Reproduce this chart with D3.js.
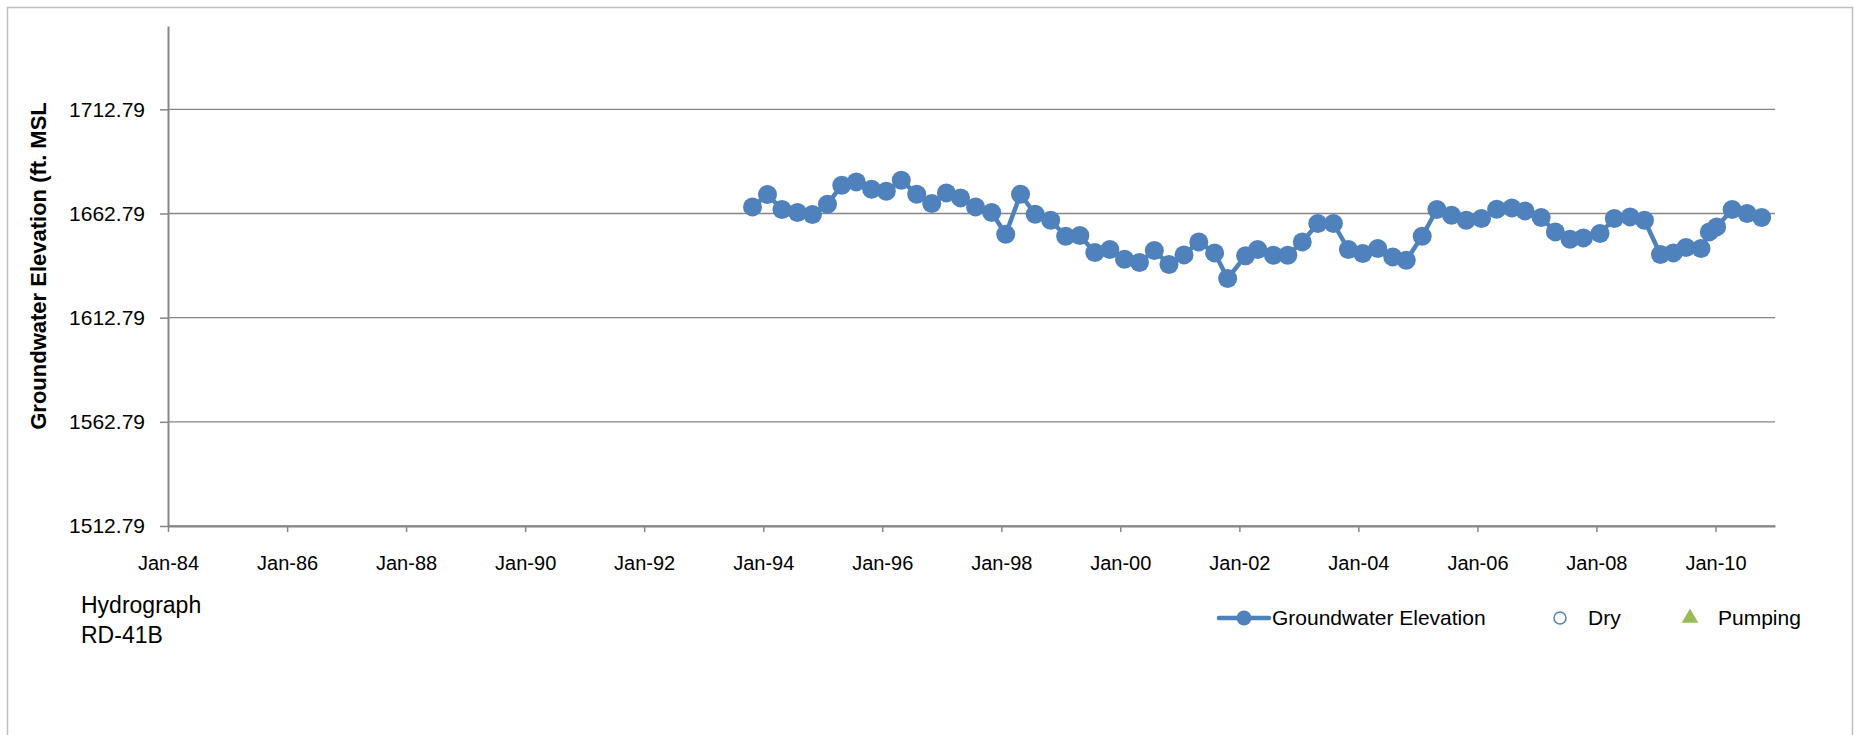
<!DOCTYPE html>
<html>
<head>
<meta charset="utf-8">
<script src="https://cdn.jsdelivr.net/npm/d3@7"></script>
<style>
  body { margin: 0; background: #fff; }
  text { font-family: "Liberation Sans", Arial, sans-serif; fill: #000; }
</style>
</head>
<body>
<div id="viz-container"></div>
<script>
let sampleDates = [
  "1993-10-27","1994-01-27","1994-04-26","1994-07-30","1994-10-30",
  "1995-01-30","1995-04-28","1995-07-26","1995-10-28","1996-01-26",
  "1996-04-27","1996-07-31","1996-10-31","1997-01-29","1997-04-26",
  "1997-07-27","1997-11-03","1998-01-28","1998-04-29","1998-07-28",
  "1998-10-31","1999-01-31","1999-04-28","1999-07-29","1999-10-29",
  "2000-01-27","2000-04-28","2000-07-28","2000-10-26","2001-01-26",
  "2001-04-27","2001-08-02","2001-10-21","2002-02-08","2002-04-23",
  "2002-07-29","2002-10-25","2003-01-22","2003-04-27","2003-08-01",
  "2003-11-01","2004-01-28","2004-04-29","2004-07-30","2004-10-21",
  "2005-01-27","2005-04-27","2005-07-26","2005-10-24","2006-01-26",
  "2006-04-29","2006-07-31","2006-10-20","2007-01-27","2007-04-24",
  "2007-07-23","2007-10-13","2008-01-23","2008-04-20","2008-07-26",
  "2008-10-22","2009-01-28","2009-04-17","2009-07-04","2009-10-04",
  "2009-11-24","2010-01-08","2010-04-13","2010-07-14","2010-10-11"
];
let elevations = [
  1665.96, 1671.91, 1664.71, 1663.27, 1662.31,
  1667.25, 1676.37, 1677.96, 1674.45, 1673.49,
  1678.77, 1672.05, 1667.59, 1672.68, 1670.28,
  1665.96, 1663.27, 1652.85, 1672.05, 1662.45,
  1659.57, 1651.89, 1652.23, 1644.07, 1645.51,
  1640.85, 1639.27, 1645.03, 1638.31, 1642.92,
  1649.16, 1643.88, 1631.59, 1642.53, 1645.51,
  1642.77, 1642.77, 1649.16, 1657.99, 1657.99,
  1645.51, 1643.59, 1645.99, 1641.96, 1640.37,
  1651.89, 1664.71, 1661.97, 1659.57, 1660.39,
  1664.85, 1665.48, 1664.04, 1660.87, 1653.96,
  1650.45, 1651.08, 1653.19, 1660.39, 1661.16,
  1659.57, 1643.11, 1643.88, 1646.47, 1645.99,
  1653.96, 1656.36, 1664.71, 1662.79, 1660.87
];
let dryDates = [];
let pumpingDates = [];

let yTicks = [1512.79, 1562.79, 1612.79, 1662.79, 1712.79];
let yMax = 1752.79;
let xStart = "1984-01-01";
let xEnd = "2011-01-01";
let legendLabels = ["Groundwater Elevation", "Dry", "Pumping"];
let chartTitle = ["Hydrograph", "RD-41B"];

let blue = "#4f81bd";
let green = "#9bbb59";
let gray = "#868686";

let W = 1855, H = 735;
let plotLeft = 168, plotRight = 1775, plotTop = 26, plotBottom = 526;

let parse = d3.timeParse("%Y-%m-%d");

let viz = d3.select("#viz-container")
  .append("svg")
    .attr("id", "viz")
    .attr("width", W)
    .attr("height", H)
;

// outer chart frame
viz.append("rect")
    .attr("x", 7.5)
    .attr("y", 7.5)
    .attr("width", 1845)
    .attr("height", 760)
    .attr("fill", "none")
    .attr("stroke", "#bfbfbf")
    .attr("stroke-width", 1.5)
;

let x = d3.scaleTime()
    .domain([parse(xStart), parse(xEnd)])
    .range([plotLeft, plotRight]);

let y = d3.scaleLinear()
    .domain([yTicks[0], yMax])
    .range([plotBottom, plotTop]);

// gridlines
viz.append("g").selectAll("line").data(yTicks).enter()
  .append("line")
    .attr("x1", plotLeft)
    .attr("x2", plotRight)
    .attr("y1", d => y(d))
    .attr("y2", d => y(d))
    .attr("stroke", gray)
    .attr("stroke-width", 1.3)
;

let xAxis = d3.axisBottom(x)
    .ticks(d3.timeYear.every(2))
    .tickFormat(d3.timeFormat("%b-%y"))
    .tickSizeInner(6)
    .tickSizeOuter(0)
    .tickPadding(24);

let yAxis = d3.axisLeft(y)
    .tickValues(yTicks)
    .tickFormat(d3.format(".2f"))
    .tickSizeInner(8)
    .tickSizeOuter(0)
    .tickPadding(15);

let gx = viz.append("g")
    .attr("transform", "translate(0," + plotBottom + ")")
    .call(xAxis);
gx.selectAll("text").attr("font-size", 20).attr("font-family", null);

let gy = viz.append("g")
    .attr("transform", "translate(" + plotLeft + ",0)")
    .call(yAxis);
gy.selectAll("text").attr("font-size", 21).attr("font-family", null);

viz.selectAll(".domain").attr("stroke", gray).attr("stroke-width", 2);
viz.selectAll(".tick line").attr("stroke", gray).attr("stroke-width", 1.5);

// axis title
viz.append("text")
    .attr("transform", "translate(46,266) rotate(-90)")
    .attr("text-anchor", "middle")
    .attr("font-size", 22)
    .attr("font-weight", "bold")
    .text("Groundwater Elevation (ft. MSL")
;

// series
let series = sampleDates.map((d, i) => ({date: parse(d), value: elevations[i]}));

let lineGen = d3.line()
    .x(d => x(d.date))
    .y(d => y(d.value));

viz.append("path")
    .datum(series)
    .attr("d", lineGen)
    .attr("fill", "none")
    .attr("stroke", blue)
    .attr("stroke-width", 4.5)
    .attr("stroke-linejoin", "round")
;

viz.append("g").selectAll("circle").data(series).enter()
  .append("circle")
    .attr("cx", d => x(d.date))
    .attr("cy", d => y(d.value))
    .attr("r", 9.5)
    .attr("fill", blue)
;

// title block
viz.append("g").selectAll("text").data(chartTitle).enter()
  .append("text")
    .attr("x", 81)
    .attr("y", (d, i) => 613 + i * 30)
    .attr("font-size", 23)
    .text(d => d)
;

// legend
let legend = viz.append("g").attr("transform", "translate(0,618)");

legend.append("line")
    .attr("x1", 1219).attr("x2", 1269)
    .attr("y1", 0).attr("y2", 0)
    .attr("stroke", blue)
    .attr("stroke-width", 4.5)
    .attr("stroke-linecap", "round");
legend.append("circle")
    .attr("cx", 1244).attr("cy", 0).attr("r", 7.5)
    .attr("fill", blue);
legend.append("circle")
    .attr("cx", 1560).attr("cy", 0).attr("r", 6)
    .attr("fill", "none")
    .attr("stroke", blue)
    .attr("stroke-width", 1.5);
legend.append("path")
    .attr("d", d3.symbol().type(d3.symbolTriangle).size(120)())
    .attr("transform", "translate(1690,0)")
    .attr("fill", green);

legend.selectAll("text").data(legendLabels).enter()
  .append("text")
    .attr("x", (d, i) => [1272, 1588, 1718][i])
    .attr("y", 7)
    .attr("font-size", 21)
    .text(d => d)
;
</script>
</body>
</html>
